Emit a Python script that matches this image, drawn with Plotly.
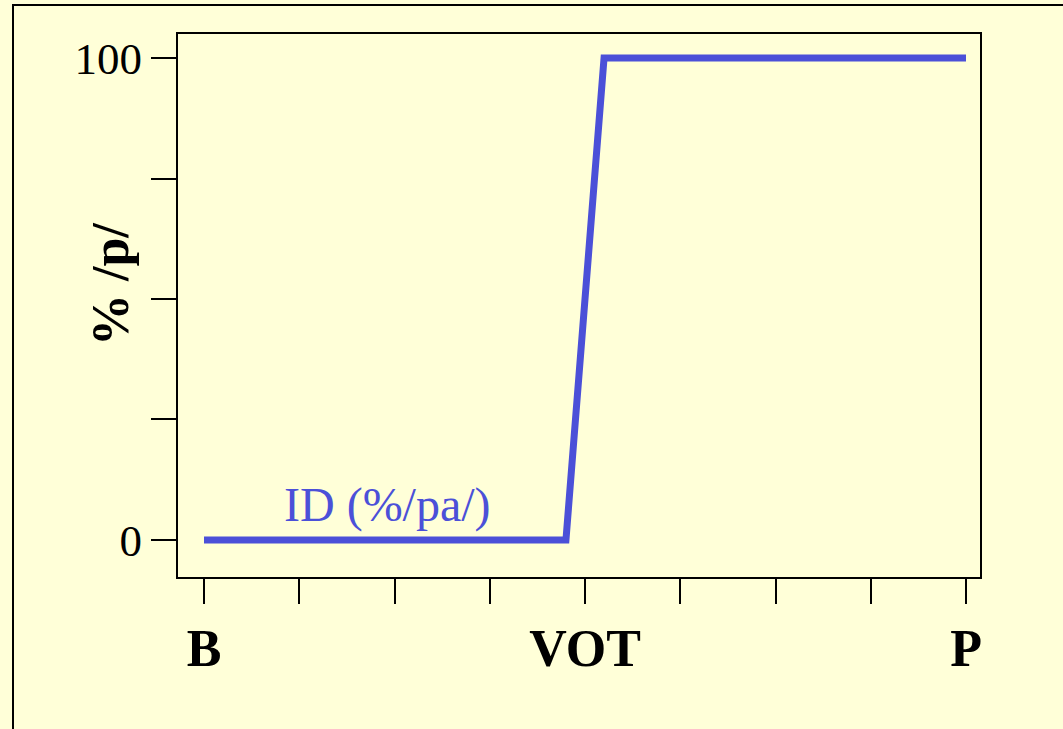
import plotly.graph_objects as go

# Data
x_vals = [1, 4.8, 5.2, 9]
y_vals = [0, 0, 100, 100]
x_tickvals = [1, 2, 3, 4, 5, 6, 7, 8, 9]
x_ticktext = ["B", "", "", "", "VOT", "", "", "", "P"]
y_tickvals = [0, 25, 50, 75, 100]
y_ticktext = ["0", "", "", "", "100"]
series_label = "ID (%/pa/)"
y_title = "% /p/"

BG = "#FFFFD8"
BLUE = "#4B50D8"

W, H = 1063, 729
L, R, T, B = 178, 83, 34, 152
pw, ph = W - L - R, H - T - B


def px_x(p):
    return (p - L) / pw


def px_y(p):
    return (H - B - p) / ph


fig = go.Figure()
fig.add_trace(go.Scatter(x=x_vals, y=y_vals, mode="lines",
                         line=dict(color=BLUE, width=7), showlegend=False,
                         hoverinfo="skip"))

fig.add_annotation(x=2.93, y=7.3, text=series_label, showarrow=False,
                   font=dict(family="Liberation Serif", size=48, color=BLUE),
                   xref="x", yref="y")

fig.add_annotation(x=px_x(110), y=px_y(285), xref="paper", yref="paper",
                   text="<b>" + y_title + "</b>", showarrow=False, textangle=-90,
                   font=dict(family="Liberation Serif", size=52, color="black"),
                   xanchor="center", yanchor="middle")

fig.update_layout(
    width=W, height=H,
    margin=dict(l=L, r=R, t=T, b=B),
    paper_bgcolor=BG, plot_bgcolor=BG,
    font=dict(family="Liberation Serif", color="black"),
    xaxis=dict(range=[0.727, 9.147], tickvals=x_tickvals, ticktext=x_ticktext,
               ticks="outside", ticklen=25, tickwidth=1.5, tickcolor="black",
               showline=True, linecolor="black", linewidth=2, mirror=True,
               showgrid=False, zeroline=False,
               tickfont=dict(family="Liberation Serif", size=52, weight="bold")),
    yaxis=dict(range=[-7.68, 104.98], tickvals=y_tickvals, ticktext=y_ticktext,
               ticks="outside", ticklen=25, tickwidth=1.5, tickcolor="black",
               showline=True, linecolor="black", linewidth=2, mirror=True,
               showgrid=False, zeroline=False,
               tickfont=dict(family="Liberation Serif", size=45)),
    shapes=[dict(type="rect", xref="paper", yref="paper",
                 x0=px_x(13), x1=1.3, y0=-0.5, y1=px_y(5),
                 line=dict(color="black", width=2), fillcolor="rgba(0,0,0,0)",
                 layer="below")],
)

fig.write_html("out.html",
               config={"displayModeBar": False},
               post_script="document.body.style.margin='0';"
                           "document.body.style.background='" + BG + "';")
